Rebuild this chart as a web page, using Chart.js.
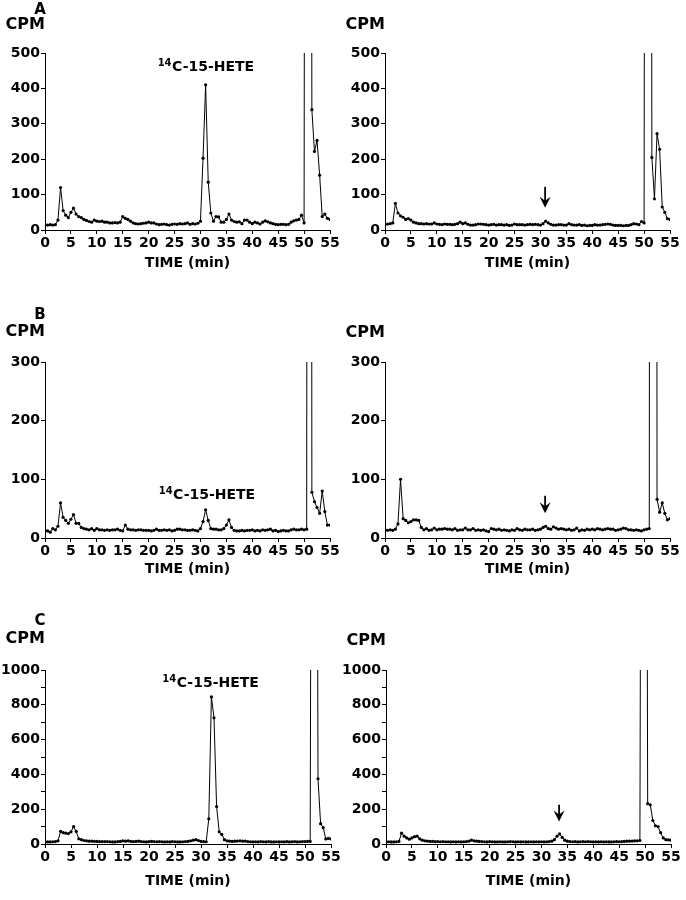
<!DOCTYPE html>
<html>
<head>
<meta charset="utf-8">
<script src="https://cdn.jsdelivr.net/npm/chart.js@4.4.0/dist/chart.umd.min.js"></script>
<style>
  html, body { margin: 0; padding: 0; background: #fff; }
  #page { position: relative; width: 686px; height: 900px; overflow: hidden; }
  .panel { position: absolute; }
  .panel canvas { display: block; }
</style>
</head>
<body>
<div id="page"></div>
<script>
// sampling times (min), one fraction every 0.5 min
const timeMin = [
  0, 0.5, 1, 1.5, 2, 2.5, 3, 3.5, 4, 4.5, 5, 5.5, 6, 6.5, 7, 7.5, 8, 8.5, 9, 9.5,
  10, 10.5, 11, 11.5, 12, 12.5, 13, 13.5, 14, 14.5, 15, 15.5, 16, 16.5, 17, 17.5, 18, 18.5, 19, 19.5,
  20, 20.5, 21, 21.5, 22, 22.5, 23, 23.5, 24, 24.5, 25, 25.5, 26, 26.5, 27, 27.5, 28, 28.5, 29, 29.5,
  30, 30.5, 31, 31.5, 32, 32.5, 33, 33.5, 34, 34.5, 35, 35.5, 36, 36.5, 37, 37.5, 38, 38.5, 39, 39.5,
  40, 40.5, 41, 41.5, 42, 42.5, 43, 43.5, 44, 44.5, 45, 45.5, 46, 46.5, 47, 47.5, 48, 48.5, 49, 49.5,
  50, 50.5, 51, 51.5, 52, 52.5, 53, 53.5, 54, 54.5, 55
];

// CPM per fraction (values above the axis max are the off-scale solvent-front peak)
const cpmA1 = [
  15, 14, 15, 14, 15, 28, 120, 55, 42, 35,
  50, 62, 45, 38, 35, 30, 27, 24, 22, 28,
  25, 24, 25, 22, 22, 20, 20, 21, 20, 22,
  38, 33, 30, 25, 20, 18, 17, 18, 19, 20,
  22, 20, 20, 17, 15, 16, 17, 15, 14, 16,
  17, 16, 18, 17, 18, 20, 16, 18, 17, 19,
  25, 203, 410, 135, 48, 25, 38, 37, 22, 22,
  30, 45, 28, 24, 22, 23, 18, 28, 28, 22,
  18, 22, 20, 17, 22, 26, 23, 20, 18, 16,
  15, 16, 16, 15, 16, 22, 26, 28, 30, 42,
  20, 6000, 6000, 340, 222, 253, 155, 38, 45, 33,
  30
];
const cpmA2 = [
  15, 17, 18, 20, 75, 48, 40, 36, 30, 32,
  28, 22, 20, 18, 18, 17, 18, 17, 17, 20,
  17, 16, 15, 17, 16, 16, 15, 16, 18, 22,
  18, 20, 16, 14, 14, 15, 17, 17, 16, 15,
  14, 15, 16, 14, 15, 15, 14, 15, 13, 14,
  17, 15, 15, 15, 14, 15, 16, 15, 16, 15,
  14, 18, 25, 20, 16, 14, 14, 15, 15, 14,
  14, 18, 15, 14, 14, 15, 13, 14, 12, 13,
  13, 15, 14, 14, 15, 16, 17, 16, 14, 13,
  13, 13, 12, 13, 13, 15, 18, 17, 15, 24,
  20, 6000, 6000, 205, 88, 272, 228, 65, 50, 32,
  30
];
const cpmB1 = [
  13, 12, 10, 16, 14, 20, 60, 35, 30, 25,
  32, 40, 25, 25, 18, 16, 15, 14, 16, 13,
  16, 14, 14, 13, 14, 13, 14, 14, 15, 13,
  12, 22, 15, 14, 14, 13, 14, 14, 13, 13,
  13, 12, 13, 15, 13, 13, 14, 13, 14, 12,
  13, 15, 15, 14, 14, 13, 13, 14, 13, 12,
  16, 28, 48, 30, 16, 15, 15, 14, 14, 16,
  22, 31, 18, 13, 12, 12, 13, 12, 13, 13,
  14, 12, 13, 12, 14, 13, 14, 15, 12, 13,
  11, 12, 13, 12, 12, 14, 15, 14, 14, 15,
  14, 15, 6000, 78, 62, 52, 42, 80, 45, 22,
  22
];
const cpmB2 = [
  14, 13, 14, 13, 15, 24, 100, 33, 30, 26,
  28, 31, 31, 30, 18, 14, 16, 13, 14, 17,
  14, 15, 15, 16, 15, 15, 14, 16, 13, 14,
  14, 17, 14, 14, 16, 13, 14, 13, 14, 12,
  11, 16, 15, 14, 15, 13, 14, 13, 12, 14,
  13, 16, 14, 13, 15, 14, 14, 15, 13, 14,
  15, 18, 20, 16, 15, 19, 17, 15, 16, 15,
  14, 15, 13, 14, 17, 12, 14, 13, 15, 14,
  15, 14, 16, 15, 14, 15, 16, 15, 15, 13,
  14, 15, 17, 16, 14, 14, 13, 14, 13, 12,
  14, 15, 16, 6000, 6000, 66, 44, 60, 42, 31,
  33
];
const cpmC1 = [
  12, 12, 12, 13, 14, 18, 72, 65, 62, 60,
  70, 100, 72, 30, 25, 20, 18, 16, 16, 15,
  15, 14, 14, 14, 14, 13, 12, 12, 14, 15,
  18, 16, 18, 15, 14, 15, 16, 14, 13, 12,
  14, 15, 14, 13, 14, 13, 12, 13, 12, 14,
  13, 12, 12, 13, 14, 15, 18, 22, 25, 20,
  15, 14, 13, 145, 845, 725, 215, 70, 55, 25,
  18, 16, 15, 16, 17, 18, 16, 17, 14, 13,
  12, 13, 12, 14, 13, 12, 14, 12, 12, 13,
  12, 13, 12, 14, 12, 13, 14, 12, 13, 14,
  14, 15, 15, 6000, 6000, 375, 117, 94, 29, 32,
  29
];
const cpmC2 = [
  12, 13, 12, 12, 13, 15, 62, 45, 35, 28,
  35, 42, 45, 30, 22, 18, 17, 15, 15, 14,
  14, 13, 14, 13, 13, 12, 13, 12, 13, 12,
  13, 14, 16, 22, 18, 16, 15, 14, 13, 12,
  14, 13, 12, 12, 13, 12, 12, 13, 14, 13,
  12, 13, 12, 13, 12, 12, 13, 12, 13, 12,
  13, 12, 13, 14, 16, 25, 45, 58, 38, 22,
  16, 14, 13, 14, 12, 13, 14, 13, 14, 13,
  12, 13, 12, 13, 12, 13, 12, 12, 13, 14,
  13, 14, 15, 16, 16, 17, 18, 18, 20, 6000,
  6000, 232, 225, 135, 105, 100, 65, 35, 25, 24,
  22
];

const FONT = '"DejaVu Sans", "Liberation Sans", Arial, sans-serif';
const INK = '#000';

// page layout of the six panels (box = canvas, area = plot area, page pixels)
const panels = [
  { values: cpmA1, yMax: 500, letter: 'A', box: { left: 0, top: 0, w: 343, h: 280 }, area: { l: 45, r: 330, t: 53, b: 230 }, timeY: 263, letterGap: 43, cpmGap: 28.5, label: { x: 31, y: 448 } },
  { values: cpmA2, yMax: 500, box: { left: 343, top: 0, w: 343, h: 280 }, area: { l: 385, r: 670, t: 53, b: 230 }, timeY: 263, cpmGap: 28.5, arrow: { x: 30.9, from: 122, to: 63 } },
  { values: cpmB1, yMax: 300, letter: 'B', box: { left: 0, top: 290, w: 343, h: 300 }, area: { l: 45, r: 330, t: 362, b: 538 }, timeY: 569.5, letterGap: 47, cpmGap: 30, label: { x: 31.2, y: 67 } },
  { values: cpmB2, yMax: 300, box: { left: 343, top: 290, w: 343, h: 300 }, area: { l: 385, r: 670, t: 362, b: 538 }, timeY: 569.5, cpmGap: 29, arrow: { x: 30.9, from: 72, to: 42 } },
  { values: cpmC1, yMax: 1000, letter: 'C', box: { left: 0, top: 590, w: 343, h: 310 }, area: { l: 45, r: 331, t: 670, b: 844 }, timeY: 881, letterGap: 49, cpmGap: 31, label: { x: 31.8, y: 904 } },
  { values: cpmC2, yMax: 1000, box: { left: 343, top: 590, w: 343, h: 310 }, area: { l: 386, r: 671, t: 670, b: 844 }, timeY: 881, cpmGap: 29, arrow: { x: 33.4, from: 225, to: 130 } }
];

const panelText = {
  id: 'panelText',
  afterDraw(chart, args, opts) {
    const { ctx, chartArea, scales } = chart;
    const xs = scales.x, ys = scales.y;
    ctx.save();
    ctx.fillStyle = INK;
    ctx.strokeStyle = INK;
    ctx.textBaseline = 'middle';

    if (opts.letter) {
      ctx.font = 'bold 15px ' + FONT;
      ctx.textAlign = 'center';
      ctx.fillText(opts.letter, chartArea.left - 5, chartArea.top - opts.letterGap);
    }

    ctx.font = 'bold 16px ' + FONT;
    ctx.textAlign = 'right';
    ctx.fillText('CPM', chartArea.left, chartArea.top - opts.cpmGap);

    if (opts.label) {
      const sup = '14', main = 'C-15-HETE';
      ctx.font = 'bold 10px ' + FONT;
      const ws = ctx.measureText(sup).width;
      ctx.font = 'bold 14px ' + FONT;
      const wm = ctx.measureText(main).width;
      const cx = xs.getPixelForValue(opts.label.x);
      const by = ys.getPixelForValue(opts.label.y);
      const sx = cx - (ws + wm) / 2;
      ctx.textAlign = 'left';
      ctx.textBaseline = 'alphabetic';
      ctx.font = 'bold 10px ' + FONT;
      ctx.fillText(sup, sx, by - 5);
      ctx.font = 'bold 14px ' + FONT;
      ctx.fillText(main, sx + ws + 0.5, by);
    }

    if (opts.arrow) {
      const ax = xs.getPixelForValue(opts.arrow.x);
      const y0 = ys.getPixelForValue(opts.arrow.from);
      const y1 = ys.getPixelForValue(opts.arrow.to);
      ctx.lineWidth = 1.8;
      ctx.beginPath();
      ctx.moveTo(ax, y0);
      ctx.lineTo(ax, y1 - 6);
      ctx.stroke();
      ctx.beginPath();
      ctx.moveTo(ax - 5.5, y1 - 11);
      ctx.lineTo(ax, y1);
      ctx.lineTo(ax + 5.5, y1 - 11);
      ctx.lineTo(ax, y1 - 7);
      ctx.closePath();
      ctx.fill();
    }
    ctx.restore();
  }
};

function makePanel(p) {
  const page = document.getElementById('page');
  const div = document.createElement('div');
  div.className = 'panel';
  div.style.left = p.box.left + 'px';
  div.style.top = p.box.top + 'px';
  div.style.width = p.box.w + 'px';
  div.style.height = p.box.h + 'px';
  const canvas = document.createElement('canvas');
  canvas.width = p.box.w;
  canvas.height = p.box.h;
  div.appendChild(canvas);
  page.appendChild(div);

  const padTop = p.area.t - p.box.top;
  const padRight = p.box.left + p.box.w - p.area.r;
  const yWidth = p.area.l - p.box.left;
  const xHeight = p.box.top + p.box.h - p.area.b;
  const titlePad = p.box.top + p.box.h - p.timeY - 8.4;
  const labelEvery = p.yMax > 500 ? 200 : 100;

  new Chart(canvas, {
    type: 'line',
    data: {
      datasets: [{
        data: timeMin.map((t, i) => ({ x: t, y: p.values[i] })),
        borderColor: INK,
        borderWidth: 1,
        pointRadius: 1.6,
        pointBackgroundColor: INK,
        pointBorderWidth: 0,
        tension: 0
      }]
    },
    options: {
      responsive: false,
      animation: false,
      events: [],
      layout: { padding: { top: padTop, right: padRight, left: 0, bottom: 0 } },
      plugins: {
        legend: { display: false },
        tooltip: { enabled: false },
        panelText: {
          letter: p.letter, letterGap: p.letterGap, cpmGap: p.cpmGap,
          label: p.label, arrow: p.arrow
        }
      },
      scales: {
        x: {
          type: 'linear',
          min: 0,
          max: 55,
          ticks: {
            stepSize: 5, autoSkip: false, maxRotation: 0, padding: 1,
            color: INK, font: { family: FONT, size: 14, weight: 'bold' }
          },
          grid: { display: true, drawOnChartArea: false, drawTicks: true, tickLength: 4, color: INK },
          border: { display: true, color: INK, width: 1 },
          title: {
            display: true, text: 'TIME (min)', color: INK,
            font: { family: FONT, size: 14, weight: 'bold' },
            padding: { top: 0, bottom: titlePad }
          },
          afterFit(s) { s.height = xHeight; }
        },
        y: {
          type: 'linear',
          min: 0,
          max: p.yMax,
          ticks: {
            stepSize: 100, autoSkip: false, padding: 1,
            color: INK, font: { family: FONT, size: 14, weight: 'bold' },
            callback: v => (v % labelEvery === 0 ? String(v) : '')
          },
          grid: { display: true, drawOnChartArea: false, drawTicks: true, tickLength: 4, color: INK },
          border: { display: true, color: INK, width: 1 },
          afterFit(s) { s.width = yWidth; }
        }
      }
    },
    plugins: [panelText]
  });
}

panels.forEach(makePanel);
</script>
</body>
</html>
